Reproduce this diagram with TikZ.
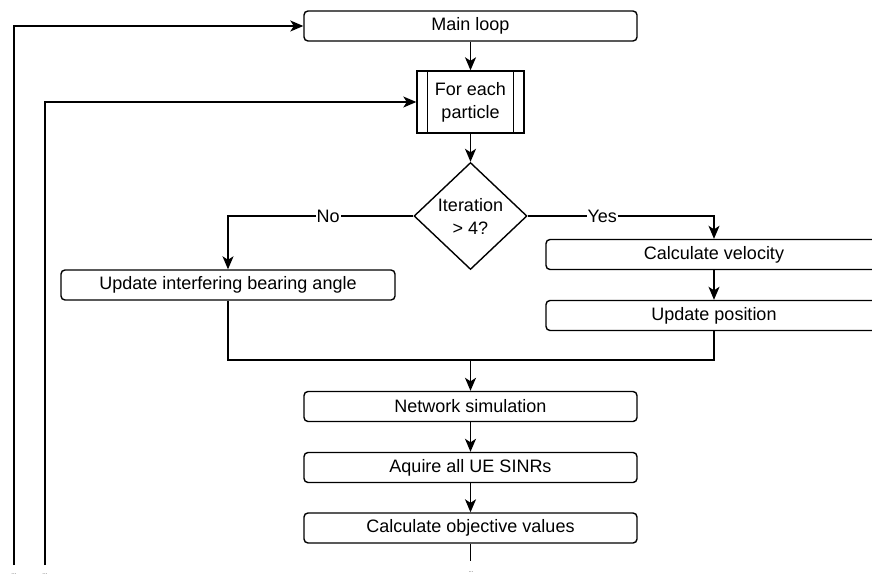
\documentclass[tikz,border=0pt]{standalone}
\usepackage{fontspec}
\setmainfont{Liberation Sans}
\usetikzlibrary{arrows.meta,shapes.geometric}
\begin{document}
\begin{tikzpicture}[x=1pt,y=-1pt,
  txt/.style={font=\fontsize{18}{23}\selectfont, text=black},
  box/.style={txt, draw, rounded corners=4pt, line width=1.4pt, minimum height=30pt, inner sep=0pt},
  flow/.style={line width=1.4pt, -{Stealth[length=13pt,width=11pt,inset=3.5pt]}},
  plain/.style={line width=1.4pt},
  lbl/.style={txt, fill=white, inner sep=1pt},
  dotsnode/.style={font=\fontsize{6}{7}\selectfont, inner sep=0pt, text=black!70}]
\useasboundingbox (0,0) rectangle (872,581);

% process steps
\node[box, minimum width=333pt] (main) at (470.5,26) {Main loop};
\node[txt, draw, line width=1.4pt, minimum width=107pt, minimum height=62pt, align=center, inner sep=0pt] (part) at (470.5,102) {For each\\particle};
\draw[plain] ([xshift=11pt]part.north west) -- ([xshift=11pt]part.south west);
\draw[plain] ([xshift=-11pt]part.north east) -- ([xshift=-11pt]part.south east);

% decision
\node[diamond, draw, line width=1.4pt, inner sep=0pt, minimum width=113pt, minimum height=107pt] (cond) at (470.5,216) {};
\node[txt, align=center] (condtext) at (cond) {Iteration\\> 4?};

\node[box, minimum width=334pt] (upd) at (228,285) {Update interfering bearing angle};
\node[box, minimum width=336pt] (vel) at (714,254.5) {Calculate velocity};
\node[box, minimum width=336pt] (pos) at (714,315.5) {Update position};

\node[box, minimum width=333pt] (net) at (470.5,406.5) {Network simulation};
\node[box, minimum width=333pt] (sinr) at (470.5,467.5) {Aquire all UE SINRs};
\node[box, minimum width=333pt] (obj) at (470.5,528) {Calculate objective values};

% connectors
\draw[flow] (main) -- (part);
\draw[flow] (part) -- (cond);
\draw[flow] (cond.west) -| (upd.north) node[lbl, pos=0.23] {No};
\draw[flow] (cond.east) -| (vel.north) node[lbl, pos=0.2] {Yes};
\draw[flow] (vel) -- (pos);

\coordinate (merge) at (470.5,360);
\draw[plain] (upd.south) |- (merge);
\draw[plain] (pos.south) |- (merge);
\draw[flow] (merge) -- (net);
\draw[flow] (net) -- (sinr);
\draw[flow] (sinr) -- (obj);

\coordinate (cont) at (470.5,561);
\draw[plain] (obj.south) -- (cont);

% loop-back lines
\coordinate (outer) at (14,565);
\coordinate (inner) at (45,565);
\draw[flow] (outer) |- (main.west);
\draw[flow] (inner) |- (part.west);

\node[dotsnode] (d1) at (14,574) {...};
\node[dotsnode] (d2) at (45,574) {...};
\node[dotsnode] (d3) at (471,572) {...};
\end{tikzpicture}
\end{document}
